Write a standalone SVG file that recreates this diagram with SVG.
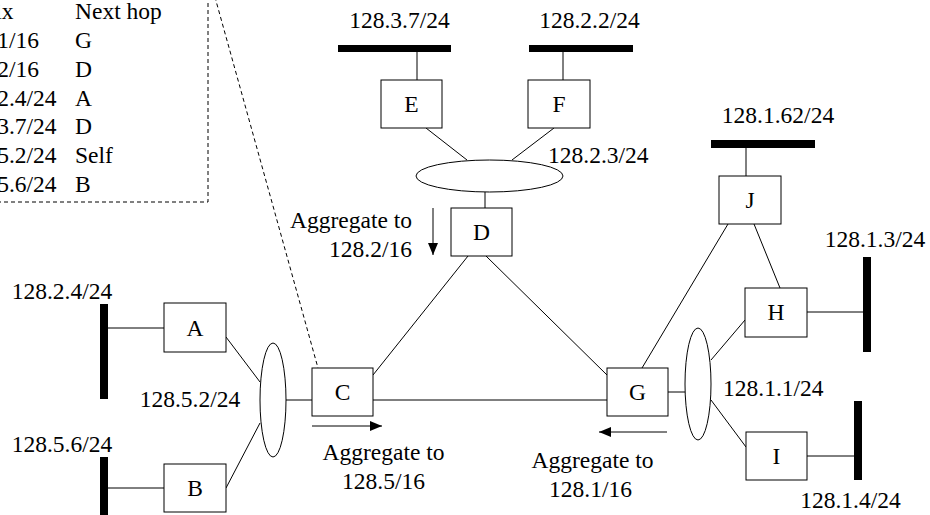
<svg xmlns="http://www.w3.org/2000/svg" width="930" height="515" viewBox="0 0 930 515">
<defs>
<style>
.t{font-family:Liberation Serif, serif;font-size:23.5px;fill:#000}
.m{text-anchor:middle}
.e{text-anchor:end}
.box{fill:#fff;stroke:#000;stroke-width:1}
.bar{fill:#000}
.ell{fill:#fff;stroke:#000;stroke-width:1}
.ln{stroke:#000;stroke-width:1;fill:none}
.dash{stroke:#000;stroke-width:1;fill:none;stroke-dasharray:4 3}
</style>
<marker id="ah" markerUnits="userSpaceOnUse" markerWidth="12" markerHeight="10" refX="12" refY="5" orient="auto">
<path d="M0,0 L12,5 L0,10 Z" fill="#000"/>
</marker>
</defs>

<g id="table" class="t">
<path class="dash" d="M-10 202 H208 V-10"/>
<text x="-44" y="19">Prefix</text><text x="75" y="19">Next hop</text>
<text x="-44" y="48">128.1/16</text><text x="75" y="48">G</text>
<text x="-44" y="77">128.2/16</text><text x="75" y="77">D</text>
<text x="-44" y="106">128.2.4/24</text><text x="75" y="106">A</text>
<text x="-44" y="134">128.3.7/24</text><text x="75" y="134">D</text>
<text x="-44" y="163">128.5.2/24</text><text x="75" y="163">Self</text>
<text x="-44" y="192">128.5.6/24</text><text x="75" y="192">B</text>
</g>

<g id="connectors">
<line class="dash" x1="213" y1="-10" x2="318" y2="368"/>
<line class="ln" x1="417" y1="52" x2="417" y2="80"/>
<line class="ln" x1="563" y1="52" x2="563" y2="80"/>
<line class="ln" x1="426" y1="128" x2="467" y2="160"/>
<line class="ln" x1="554" y1="128" x2="512" y2="160"/>
<line class="ln" x1="485" y1="192" x2="485" y2="208"/>
<line class="ln" x1="468" y1="256" x2="373" y2="375"/>
<line class="ln" x1="486" y1="256" x2="607" y2="375"/>
<line class="ln" x1="373" y1="400" x2="607" y2="400"/>
<line class="ln" x1="286" y1="400" x2="312" y2="400"/>
<line class="ln" x1="260" y1="382" x2="226" y2="337"/>
<line class="ln" x1="260" y1="423" x2="226" y2="488"/>
<line class="ln" x1="108" y1="328" x2="164" y2="328"/>
<line class="ln" x1="108" y1="488" x2="164" y2="488"/>
<line class="ln" x1="668" y1="392" x2="685" y2="392"/>
<line class="ln" x1="711" y1="360" x2="745" y2="320"/>
<line class="ln" x1="711" y1="400" x2="746" y2="447"/>
<line class="ln" x1="807" y1="312" x2="863" y2="312"/>
<line class="ln" x1="807" y1="456" x2="854" y2="456"/>
<line class="ln" x1="746" y1="148" x2="746" y2="176"/>
<line class="ln" x1="728" y1="224" x2="642" y2="368"/>
<line class="ln" x1="754" y1="224" x2="780" y2="288"/>
<line class="ln" x1="433" y1="208" x2="433" y2="255" marker-end="url(#ah)"/>
<line class="ln" x1="312" y1="426" x2="382" y2="426" marker-end="url(#ah)"/>
<line class="ln" x1="667" y1="432" x2="599" y2="432" marker-end="url(#ah)"/>
</g>

<g id="net-128.3.7" class="t"><rect class="bar" x="338" y="45" width="113" height="7"/><text class="m" x="399.5" y="28">128.3.7/24</text></g>
<g id="net-128.2.2" class="t"><rect class="bar" x="529" y="45" width="104" height="7"/><text class="m" x="589.5" y="28">128.2.2/24</text></g>
<g id="net-128.1.62" class="t"><rect class="bar" x="711" y="140" width="104" height="8"/><text class="m" x="778" y="123">128.1.62/24</text></g>
<g id="net-128.1.3" class="t"><rect class="bar" x="863" y="257" width="8" height="95"/><text class="m" x="875" y="247">128.1.3/24</text></g>
<g id="net-128.1.4" class="t"><rect class="bar" x="854" y="401" width="8" height="79"/><text class="m" x="850.5" y="508">128.1.4/24</text></g>
<g id="net-128.2.4" class="t"><rect class="bar" x="100" y="304" width="8" height="95"/><text class="m" x="62" y="299">128.2.4/24</text></g>
<g id="net-128.5.6" class="t"><rect class="bar" x="100" y="457" width="8" height="70"/><text class="m" x="62" y="452">128.5.6/24</text></g>

<g id="lan-128.2.3" class="t"><ellipse class="ell" cx="489.5" cy="176" rx="73.5" ry="16"/><text x="548" y="163">128.2.3/24</text></g>
<g id="lan-128.5.2" class="t"><ellipse class="ell" cx="273" cy="400" rx="13" ry="57"/><text class="m" x="190" y="407">128.5.2/24</text></g>
<g id="lan-128.1.1" class="t"><ellipse class="ell" cx="698" cy="384" rx="13" ry="56"/><text x="723" y="396">128.1.1/24</text></g>

<g id="A" class="t"><rect class="box" x="164" y="303" width="62" height="49"/><text class="m" x="195" y="336">A</text></g>
<g id="B" class="t"><rect class="box" x="164" y="464" width="62" height="48"/><text class="m" x="195" y="496">B</text></g>
<g id="C" class="t"><rect class="box" x="312" y="368" width="61" height="48"/><text class="m" x="342.5" y="400">C</text></g>
<g id="D" class="t"><rect class="box" x="451" y="208" width="61" height="48"/><text class="m" x="481.5" y="240">D</text></g>
<g id="E" class="t"><rect class="box" x="381" y="80" width="61" height="48"/><text class="m" x="411.5" y="112">E</text></g>
<g id="F" class="t"><rect class="box" x="528" y="80" width="62" height="48"/><text class="m" x="559" y="112">F</text></g>
<g id="G" class="t"><rect class="box" x="607" y="368" width="61" height="48"/><text class="m" x="637.5" y="400">G</text></g>
<g id="H" class="t"><rect class="box" x="745" y="288" width="62" height="49"/><text class="m" x="776" y="320">H</text></g>
<g id="I" class="t"><rect class="box" x="746" y="432" width="61" height="48"/><text class="m" x="776.5" y="464">I</text></g>
<g id="J" class="t"><rect class="box" x="719" y="176" width="62" height="48"/><text class="m" x="750" y="208">J</text></g>

<g id="agg-labels" class="t">
<text class="e" x="412" y="228">Aggregate to</text>
<text class="e" x="412" y="257">128.2/16</text>
<text class="m" x="383.5" y="460">Aggregate to</text>
<text class="m" x="383.5" y="489">128.5/16</text>
<text class="m" x="592.5" y="468">Aggregate to</text>
<text class="m" x="590.5" y="497">128.1/16</text>
</g>
</svg>
